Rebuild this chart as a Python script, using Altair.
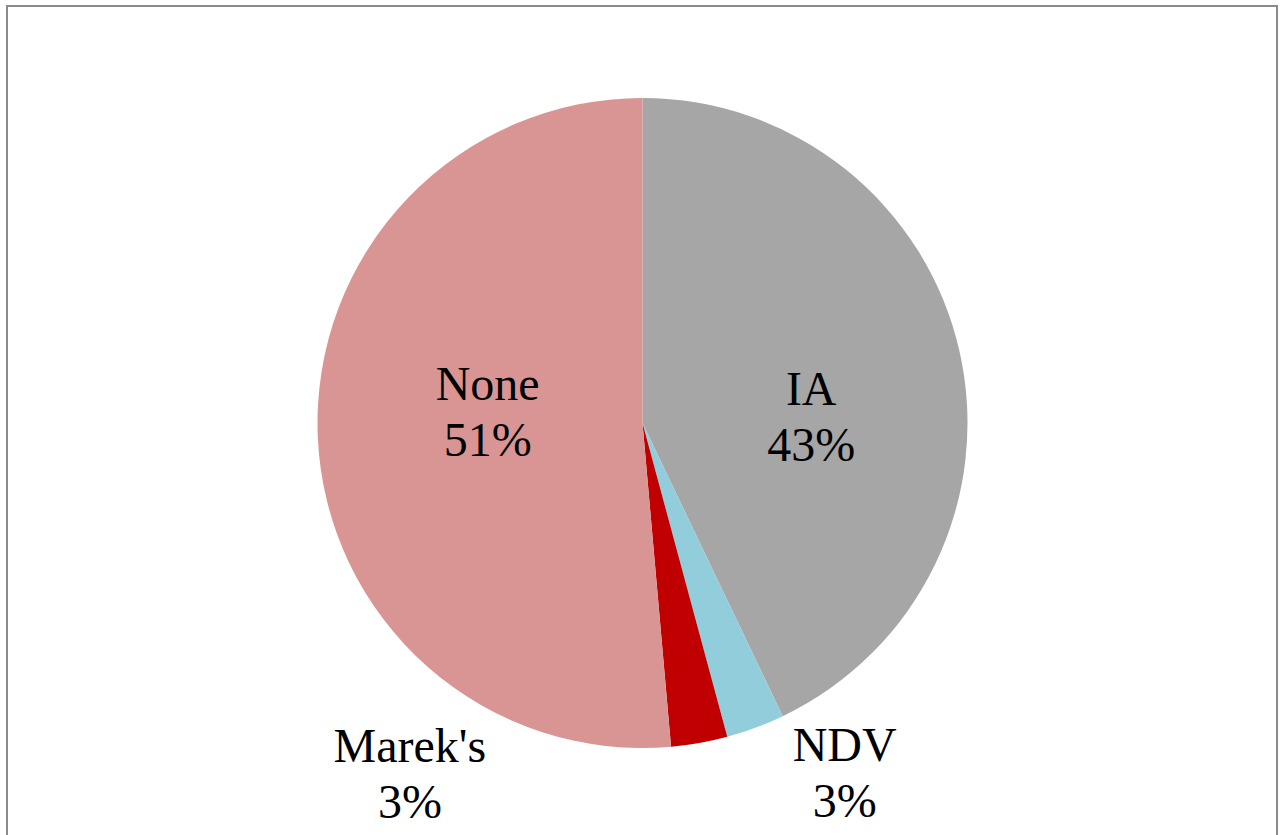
import altair as alt
import pandas as pd

# ---- data ----
categories = ["IA", "NDV", "Marek's", "None"]
shares = [42.9, 2.9, 2.8, 51.4]          # percent of the whole
pct_labels = ["43%", "3%", "3%", "51%"]

# ---- styling / layout ----
colors = ["#A6A6A6", "#92CDDC", "#C00000", "#D99594"]
W, H = 1284, 835
CX, CY = 642.5, 423
R = 325
FONT = "Liberation Serif"
FS = 48
LH = 56
# label placement: radius from centre plus pixel nudge (Excel "best fit" style)
label_layout = {
    "IA": (173, 0, 20),
    "NDV": (360, 77, 0),
    "Marek's": (345, -293, -1),
    "None": (155, 0, -30),
}

df = pd.DataFrame({"category": categories, "share": shares, "pct": pct_labels})
df["idx"] = range(len(df))
df["mid"] = df["share"].cumsum() - df["share"] / 2
df["label"] = df["category"] + "\n" + df["pct"]

theta_scale = alt.Scale(domain=[0, 100])

frame = alt.Chart(df).mark_rect(fill=None, stroke="#8A8A8A", strokeWidth=2).encode(
    x=alt.value(7), x2=alt.value(1277), y=alt.value(6), y2=alt.value(880)
)

arcs = alt.Chart(df).mark_arc(outerRadius=R, strokeWidth=0).encode(
    theta=alt.Theta("share:Q", stack=True, scale=theta_scale),
    color=alt.Color("category:N", scale=alt.Scale(domain=categories, range=colors), legend=None),
    order=alt.Order("idx:Q"),
    x=alt.value(CX),
    y=alt.value(CY),
)

layers = [frame, arcs]
for i, cat in enumerate(categories):
    r, dx, dy = label_layout[cat]
    t = alt.Chart(df).transform_filter(alt.datum.idx == i).mark_text(
        radius=r, dx=dx, dy=dy, font=FONT, fontSize=FS, lineHeight=LH,
        lineBreak="\n", align="center", baseline="alphabetic", color="black",
    ).encode(
        theta=alt.Theta("mid:Q", stack=None, scale=theta_scale),
        text="label:N",
        x=alt.value(CX),
        y=alt.value(CY),
    )
    layers.append(t)

chart = alt.layer(*layers).properties(
    width=W, height=H, padding=0, autosize=alt.AutoSizeParams(type="none"),
    background="white",
).configure_view(stroke=None)

chart.save("out.html", embed_options={"renderer": "svg", "actions": False})
